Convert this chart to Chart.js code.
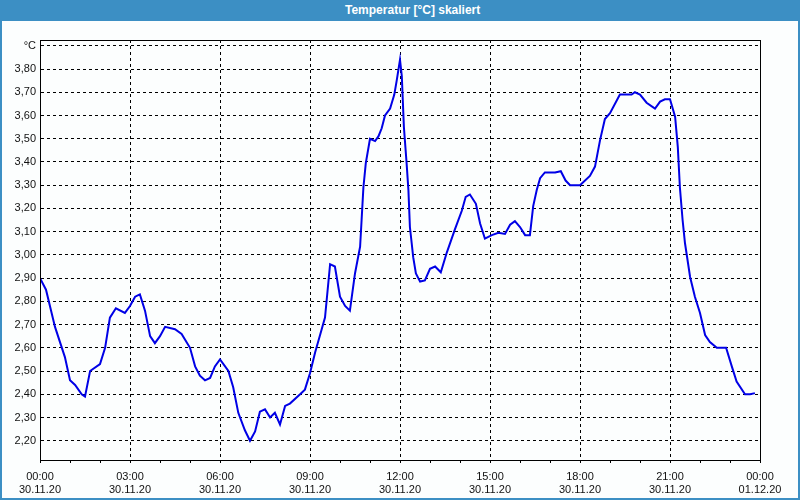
<!DOCTYPE html>
<html>
<head>
<meta charset="utf-8">
<script src="https://cdn.jsdelivr.net/npm/chart.js@4/dist/chart.umd.min.js"></script>
<style>
  html, body { margin: 0; padding: 0; background: #fff; }
  #win { position: relative; width: 800px; height: 500px; box-sizing: border-box;
         border-left: 2px solid #3c8fc4; border-right: 2px solid #3c8fc4; border-bottom: 2px solid #3c8fc4;
         background: #fcfefe; }
  #title { position: absolute; left: -2px; top: 0; width: 800px; height: 21px; background: #3c8fc4;
           color: #fff; font: bold 12px "Liberation Sans", Arial, sans-serif; line-height: 21px; }
  #title span { position: absolute; left: 345px; }
  #c { position: absolute; left: -2px; top: 0; }
</style>
</head>
<body>
<div id="win">
  <div id="title"><span>Temperatur [°C] skaliert</span></div>
  <canvas id="c" width="800" height="500"></canvas>
</div>
<script>
// hours since 30.11.20 00:00
const hours = [0, 0.2, 0.5, 0.83, 1.0, 1.17, 1.39, 1.5, 1.67, 2.0, 2.17, 2.33, 2.53, 2.83, 3.0, 3.17, 3.33, 3.5, 3.67, 3.83,
  4.0, 4.17, 4.5, 4.72, 5.0, 5.17, 5.33, 5.5, 5.67, 5.83, 6.0, 6.28, 6.44, 6.61, 6.83, 7.0, 7.17, 7.33, 7.5, 7.67,
  7.83, 8.0, 8.17, 8.33, 8.67, 8.83, 9.0, 9.17, 9.39, 9.5, 9.67, 9.83, 10.0, 10.17, 10.33, 10.5, 10.67, 10.72, 10.78, 10.86,
  11.0, 11.17, 11.28, 11.39, 11.5, 11.67, 11.81, 11.89, 12.0, 12.06, 12.13, 12.22, 12.28, 12.33, 12.39, 12.44, 12.53, 12.67, 12.83, 13.0,
  13.17, 13.36, 13.56, 13.83, 14.06, 14.19, 14.33, 14.53, 14.67, 14.83, 15.06, 15.28, 15.5, 15.67, 15.83, 16.0, 16.17, 16.33, 16.44, 16.56,
  16.67, 16.83, 17.17, 17.36, 17.52, 17.67, 18.0, 18.33, 18.5, 18.67, 18.83, 19.0, 19.33, 19.72, 19.83, 20.0, 20.22, 20.5, 20.67, 20.83,
  21.0, 21.17, 21.26, 21.33, 21.42, 21.5, 21.67, 21.83, 22.0, 22.17, 22.33, 22.56, 22.87, 23.06, 23.22, 23.5, 23.67, 23.83];
const temps = [2.90, 2.85, 2.69, 2.56, 2.46, 2.44, 2.40, 2.39, 2.50, 2.53, 2.60, 2.73, 2.77, 2.75, 2.78, 2.82, 2.83, 2.76, 2.65, 2.62,
  2.65, 2.69, 2.68, 2.66, 2.60, 2.52, 2.48, 2.46, 2.47, 2.52, 2.55, 2.50, 2.43, 2.32, 2.245, 2.20, 2.24, 2.325, 2.335, 2.30,
  2.32, 2.27, 2.35, 2.36, 2.40, 2.42, 2.49, 2.58, 2.68, 2.73, 2.96, 2.95, 2.82, 2.78, 2.76, 2.92, 3.035, 3.15, 3.29, 3.395,
  3.50, 3.49, 3.51, 3.545, 3.60, 3.63, 3.69, 3.75, 3.84, 3.77, 3.55, 3.395, 3.28, 3.12, 3.05, 2.99, 2.92, 2.885, 2.89, 2.94,
  2.95, 2.925, 3.01, 3.11, 3.19, 3.25, 3.26, 3.22, 3.135, 3.07, 3.085, 3.095, 3.09, 3.13, 3.145, 3.12, 3.085, 3.085, 3.21, 3.28,
  3.33, 3.355, 3.355, 3.36, 3.32, 3.30, 3.30, 3.34, 3.38, 3.495, 3.585, 3.61, 3.69, 3.69, 3.70, 3.69, 3.655, 3.63, 3.66, 3.67,
  3.67, 3.595, 3.465, 3.29, 3.15, 3.05, 2.905, 2.82, 2.75, 2.655, 2.625, 2.60, 2.60, 2.52, 2.455, 2.40, 2.40, 2.405];

const yTicks = [2.2, 2.3, 2.4, 2.5, 2.6, 2.7, 2.8, 2.9, 3.0, 3.1, 3.2, 3.3, 3.4, 3.5, 3.6, 3.7, 3.8, 3.9];
const yTickLabels = ['2,20', '2,30', '2,40', '2,50', '2,60', '2,70', '2,80', '2,90', '3,00', '3,10',
  '3,20', '3,30', '3,40', '3,50', '3,60', '3,70', '3,80', '°C'];
const xTicks = [0, 3, 6, 9, 12, 15, 18, 21, 24];
const xTickLabels = [['00:00', '30.11.20'], ['03:00', '30.11.20'], ['06:00', '30.11.20'], ['09:00', '30.11.20'],
  ['12:00', '30.11.20'], ['15:00', '30.11.20'], ['18:00', '30.11.20'], ['21:00', '30.11.20'], ['00:00', '01.12.20']];

const points = hours.map((h, i) => ({x: h, y: temps[i]}));

const frame = {
  id: 'frame',
  afterDraw(chart) {
    const a = chart.chartArea, ctx = chart.ctx;
    ctx.save();
    ctx.strokeStyle = '#000';
    ctx.lineWidth = 1;
    ctx.strokeRect(Math.round(a.left) + 0.5, Math.round(a.top) + 0.5, Math.round(a.right - a.left), Math.round(a.bottom - a.top));
    ctx.restore();
  }
};

const font = {family: '"Liberation Sans", Arial, sans-serif', size: 11};

new Chart(document.getElementById('c'), {
  type: 'line',
  data: {
    datasets: [{
      data: points,
      borderColor: 'rgb(0,0,230)',
      borderWidth: 2,
      pointRadius: 0,
      tension: 0,
      fill: false
    }]
  },
  options: {
    responsive: false,
    animation: false,
    layout: {padding: {top: 40, right: 40, left: 0, bottom: 0}},
    plugins: {legend: {display: false}, tooltip: {enabled: false}, title: {display: false}},
    scales: {
      x: {
        type: 'linear',
        min: 0,
        max: 24,
        afterBuildTicks: axis => { axis.ticks = Array.from({length: 25}, (_, i) => ({value: i})); },
        afterFit: axis => { axis.height = 40; },
        ticks: {
          autoSkip: false,
          maxRotation: 0,
          padding: 7,
          color: '#111',
          font: font,
          callback: v => { const k = xTicks.indexOf(v); return k >= 0 ? xTickLabels[k] : ''; }
        },
        grid: {
          color: ctx => (ctx.tick && ctx.tick.value % 3 === 0 && ctx.tick.value > 0 && ctx.tick.value < 24) ? '#000' : 'rgba(0,0,0,0)',
          tickColor: '#000',
          tickLength: 3,
          lineWidth: 1
        },
        border: {display: true, color: '#000', dash: [3, 3]}
      },
      y: {
        min: 2.117,
        max: 3.925,
        afterBuildTicks: axis => { axis.ticks = yTicks.map(v => ({value: v})); },
        afterFit: axis => { axis.width = 40; },
        ticks: {
          padding: 4,
          color: '#111',
          font: font,
          callback: (v, i) => yTickLabels[i]
        },
        grid: {
          color: '#000',
          drawTicks: false,
          lineWidth: 1
        },
        border: {display: true, color: '#000', dash: [3, 3]}
      }
    }
  },
  plugins: [frame]
});
</script>
</body>
</html>
